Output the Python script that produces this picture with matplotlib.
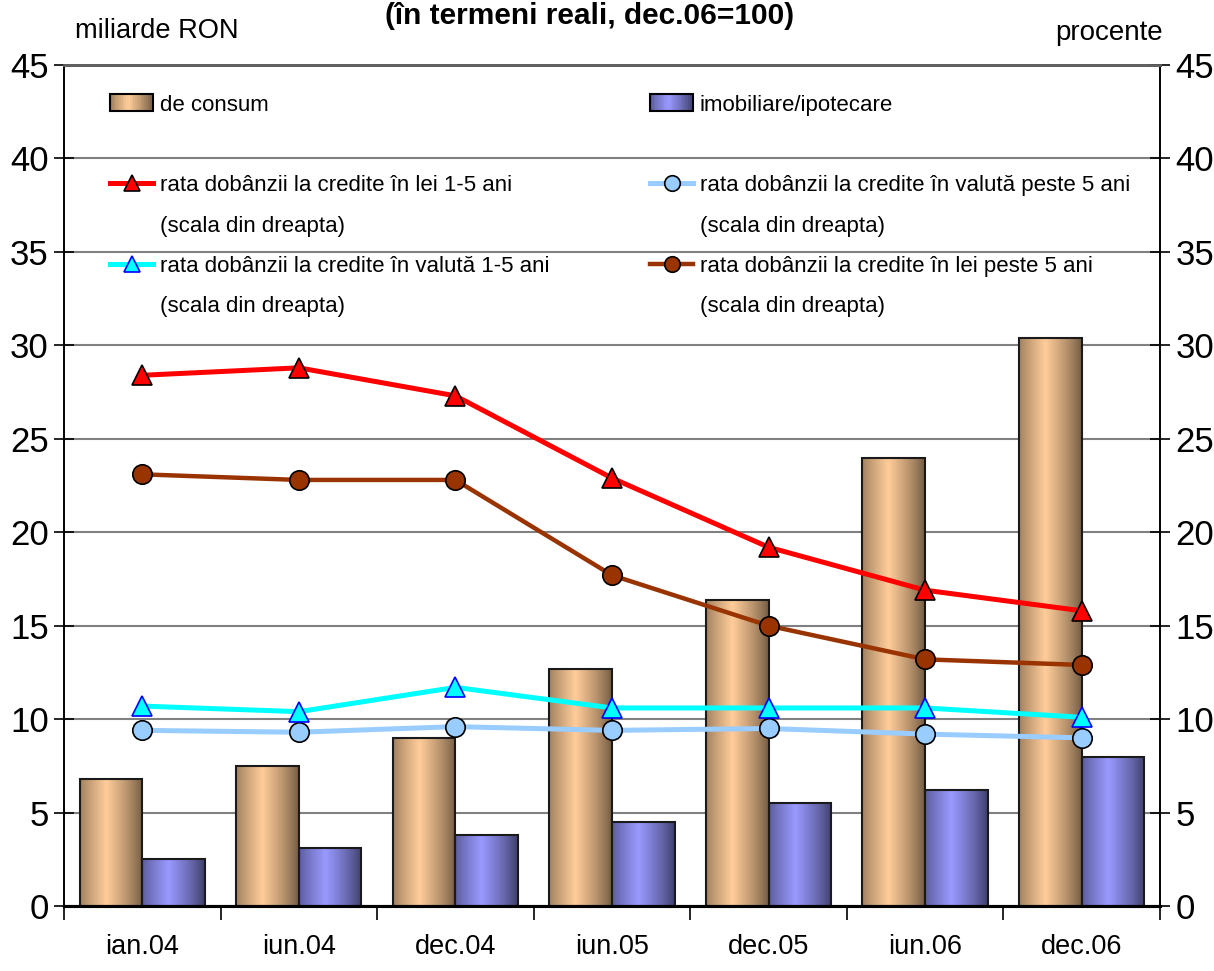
import numpy as np
import matplotlib
matplotlib.use("Agg")
import matplotlib.pyplot as plt
from matplotlib.colors import LinearSegmentedColormap
from matplotlib.lines import Line2D
from matplotlib.patches import Rectangle
from matplotlib.legend_handler import HandlerBase

plt.rcParams['font.family'] = ['Liberation Sans', 'DejaVu Sans']

# ----------- data -----------
categories = ['ian.04', 'iun.04', 'dec.04', 'iun.05', 'dec.05', 'iun.06', 'dec.06']
de_consum = [6.8, 7.5, 9.0, 12.7, 16.4, 24.0, 30.4]
imobiliare = [2.5, 3.1, 3.8, 4.5, 5.5, 6.2, 8.0]
lei_1_5 = [28.4, 28.8, 27.3, 22.9, 19.2, 16.9, 15.8]
valuta_peste_5 = [9.4, 9.3, 9.6, 9.4, 9.5, 9.2, 9.0]
valuta_1_5 = [10.7, 10.4, 11.7, 10.6, 10.6, 10.6, 10.1]
lei_peste_5 = [23.1, 22.8, 22.8, 17.7, 15.0, 13.2, 12.9]

SCALA = '(scala din dreapta)'

TAN = ('#6e5840', '#FFCC99')
PURPLE = ('#3c3c66', '#9999FF')


def profile(n):
    t = np.linspace(0, 1, n)
    return np.clip(1 - np.abs(t - 0.42) / 0.58, 0, 1) ** 0.8


def gradient_bars(ax, bars, cols):
    cmap = LinearSegmentedColormap.from_list('g', list(cols))
    grad = profile(200).reshape(1, -1)
    for b in bars:
        x0, y0 = b.get_x(), b.get_y()
        w, h = b.get_width(), b.get_height()
        im = ax.imshow(grad, extent=[x0, x0 + w, y0, y0 + h], aspect='auto',
                       cmap=cmap, vmin=0, vmax=1, zorder=2, interpolation='bilinear')
        im.set_clip_path(b)


class GradientHandler(HandlerBase):
    def __init__(self, cols):
        super().__init__()
        self.cmap = LinearSegmentedColormap.from_list('g', list(cols))

    def create_artists(self, legend, orig_handle, xdescent, ydescent,
                       width, height, fontsize, trans):
        n = 24
        vals = profile(n)
        arts = []
        for i in range(n):
            r = Rectangle((-xdescent + width * i / n, -ydescent), width / n + 0.3, height,
                          facecolor=self.cmap(vals[i]), edgecolor='none', transform=trans)
            arts.append(r)
        arts.append(Rectangle((-xdescent, -ydescent), width, height, facecolor='none',
                              edgecolor='black', lw=1.5, transform=trans))
        return arts


fig = plt.figure(figsize=(12.14, 9.71), dpi=100)
ax = fig.add_axes([0.0527, 0.0669, 0.9028, 0.8661])
ax2 = ax.twinx()

x = np.arange(len(categories))
w = 0.4
b1 = ax.bar(x - w / 2, de_consum, w, facecolor='none', edgecolor='#1a1a1a', linewidth=1.5, zorder=3)
b2 = ax.bar(x + w / 2, imobiliare, w, facecolor='none', edgecolor='#1a1a1a', linewidth=1.5, zorder=3)
gradient_bars(ax, b1, TAN)
gradient_bars(ax, b2, PURPLE)

ax.set_xlim(-0.5, len(categories) - 0.5)
ax.set_ylim(0, 45)
ax2.set_ylim(0, 45)

# lines (right scale)
l1, = ax2.plot(x, lei_1_5, color='#FF0000', lw=3.6, marker='^', ms=14,
               mfc='#FF0000', mec='black', mew=1.2)
l2, = ax2.plot(x, valuta_peste_5, color='#99CCFF', lw=3.6, marker='o', ms=14,
               mfc='#99CCFF', mec='black', mew=1.2)
l3, = ax2.plot(x, valuta_1_5, color='#00FFFF', lw=3.6, marker='^', ms=14,
               mfc='#00FFFF', mec='#0000FF', mew=1.2)
l4, = ax2.plot(x, lei_peste_5, color='#993300', lw=3.2, marker='o', ms=14,
               mfc='#993300', mec='black', mew=1.2)

# grid and axes style
ax.set_yticks(np.arange(0, 46, 5))
ax2.set_yticks(np.arange(0, 46, 5))
ax.yaxis.grid(True, color='#808080', lw=1.5, zorder=0)
ax.set_axisbelow(True)
ax.set_xticks(x)
ax.set_xticklabels(categories, fontsize=19.5)
ax.tick_params(axis='x', which='major', length=0, pad=20)
ax.set_xticks(np.arange(-0.5, len(categories), 1), minor=True)
ax.tick_params(axis='x', which='minor', length=10, width=1.2, direction='out')
ax.tick_params(axis='y', labelsize=25, direction='inout', length=14, width=1.2, pad=4)
ax2.tick_params(axis='y', labelsize=25, direction='inout', length=14, width=1.2, pad=4)
for a in (ax, ax2):
    a.spines['bottom'].set_linewidth(2.2)
    a.spines['top'].set_color('#606060')
    a.spines['top'].set_linewidth(2)
    a.spines['left'].set_linewidth(1.2)
    a.spines['right'].set_linewidth(1.2)

# legends
bar_h1 = Rectangle((0, 0), 1, 1)
bar_h2 = Rectangle((0, 0), 1, 1)
blank = Line2D([], [], linestyle='none')
hmap = {bar_h1: GradientHandler(TAN), bar_h2: GradientHandler(PURPLE)}

leg_kw = dict(frameon=False, fontsize=16, borderpad=0, handlelength=1.95, handleheight=0.8,
              handletextpad=0.3, labelspacing=0.86, numpoints=1, borderaxespad=0,
              markerscale=0.8, handler_map=hmap)
leg1 = ax2.legend([bar_h1, blank, l1, blank, l3, blank],
                  ['de consum', ' ', 'rata dobânzii la credite în lei 1-5 ani', SCALA,
                   'rata dobânzii la credite în valută 1-5 ani', SCALA],
                  loc='upper left', bbox_to_anchor=(0.0906, 0.9027),
                  bbox_transform=fig.transFigure, **leg_kw)
ax2.add_artist(leg1)
leg2 = ax2.legend([bar_h2, blank, l2, blank, l4, blank],
                  ['imobiliare/ipotecare', ' ', 'rata dobânzii la credite în valută peste 5 ani', SCALA,
                   'rata dobânzii la credite în lei peste 5 ani', SCALA],
                  loc='upper left', bbox_to_anchor=(0.5354, 0.9027),
                  bbox_transform=fig.transFigure, **leg_kw)

fig.text(0.062, 0.968, 'miliarde RON', fontsize=19.6, ha='left', va='center')
fig.text(0.958, 0.966, 'procente', fontsize=20, ha='right', va='center')
fig.text(0.486, 0.984, '(în termeni reali, dec.06=100)', fontsize=21.5,
         fontweight='bold', ha='center', va='center')

fig.savefig('out.png', dpi=100)
